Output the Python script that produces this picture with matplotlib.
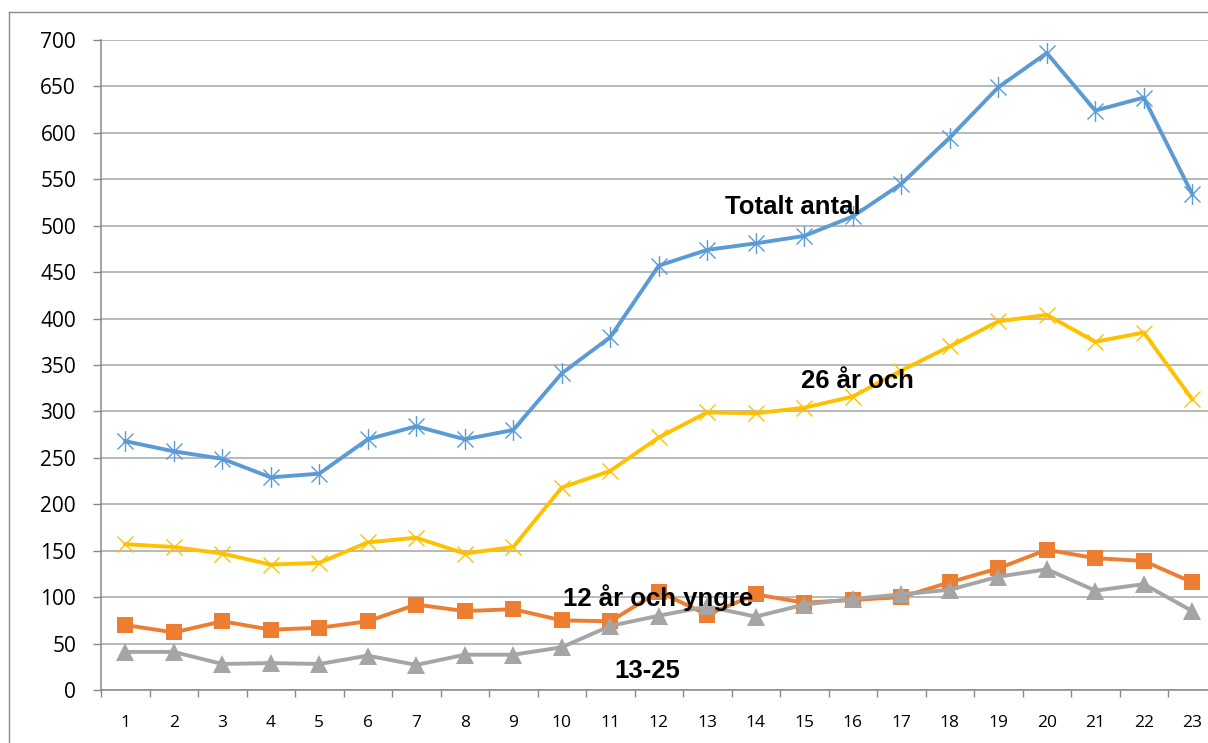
import matplotlib.pyplot as plt
from matplotlib.path import Path
from matplotlib.lines import Line2D

# data
veckor = list(range(1, 24))
totalt = [268, 257, 249, 229, 233, 270, 284, 270, 280, 341, 380, 457, 474, 481, 489, 510,
          545, 595, 649, 686, 624, 638, 534]
aeldre26 = [157, 154, 147, 135, 137, 159, 164, 147, 154, 218, 236, 272, 299, 298, 304, 316,
            344, 370, 397, 404, 375, 385, 313]
yngre12 = [70, 62, 74, 65, 67, 74, 92, 85, 87, 75, 74, 106, 81, 103, 94, 97,
           100, 116, 131, 151, 142, 139, 116]
mellan = [41, 41, 28, 29, 28, 37, 27, 38, 38, 46, 69, 80, 90, 79, 92, 98,
          103, 108, 122, 130, 107, 114, 85]

# asterisk marker like Excel's star: x plus vertical bar
star = Path([(-1, -1), (1, 1), (-1, 1), (1, -1), (0, -1.3), (0, 1.3)],
            [Path.MOVETO, Path.LINETO, Path.MOVETO, Path.LINETO, Path.MOVETO, Path.LINETO])

plt.rcParams['font.family'] = ['Open Sans', 'DejaVu Sans']

fig = plt.figure(figsize=(12.08, 7.43), dpi=100)
ax = fig.add_axes([101 / 1208, 53 / 743, 1115.5 / 1208, 650 / 743])

blue = '#5B9BD5'
yellow = '#FFC000'
orange = '#ED7D31'
gray = '#A5A5A5'

ax.plot(veckor, totalt, color=blue, lw=2.8, marker=star, ms=15, mew=1.0, zorder=3)
ax.plot(veckor, aeldre26, color=yellow, lw=2.8, marker='x', ms=12, mew=1.0, zorder=3)
ax.plot(veckor, yngre12, color=orange, lw=2.8, marker='s', ms=11.5, mew=0, zorder=3)
ax.plot(veckor, mellan, color=gray, lw=2.8, marker='^', ms=12.5, mew=0, zorder=3)

# series labels
lab = dict(fontsize=18.5, fontweight='bold', ha='center', va='center', zorder=4,
           family=['Liberation Sans', 'DejaVu Sans'])
ax.text(14.77, 520, 'Totalt antal', **lab)
ax.text(16.1, 333, '26 år och', **lab)
ax.text(11.98, 99, '12 år och yngre', **lab)
ax.text(11.76, 21, '13-25', **lab)

ax.set_xlim(0.5, 23.5)
ax.set_ylim(0, 700)
ax.set_yticks(range(0, 701, 50))
ax.grid(axis='y', color='#A6A6A6', lw=1.1, zorder=0)
ax.set_axisbelow(True)

ax.set_xticks([v + 0.5 for v in range(0, 23)])
ax.set_xticklabels([])
ax.set_xticks(veckor, minor=True)
ax.set_xticklabels([str(v) for v in veckor], minor=True)
ax.tick_params(axis='x', which='minor', length=0, pad=18, labelsize=12.5)
ax.tick_params(axis='x', which='major', length=5, color='#898989', width=1)
ax.tick_params(axis='y', length=6, color='#898989', width=1, pad=12, labelsize=15)

for s in ['top', 'right']:
    ax.spines[s].set_visible(False)
for s in ['left', 'bottom']:
    ax.spines[s].set_color('#898989')
    ax.spines[s].set_linewidth(1.1)

# outer chart-area frame (only left and top edges fall inside the picture)
fig.add_artist(Line2D([9 / 1208, 9 / 1208], [0, 1 - 12 / 743], color='#8C8C8C', lw=1.0,
                      transform=fig.transFigure))
fig.add_artist(Line2D([9 / 1208, 1], [1 - 12 / 743, 1 - 12 / 743], color='#8C8C8C', lw=1.0,
                      transform=fig.transFigure))

fig.savefig('out.png', dpi=100)
